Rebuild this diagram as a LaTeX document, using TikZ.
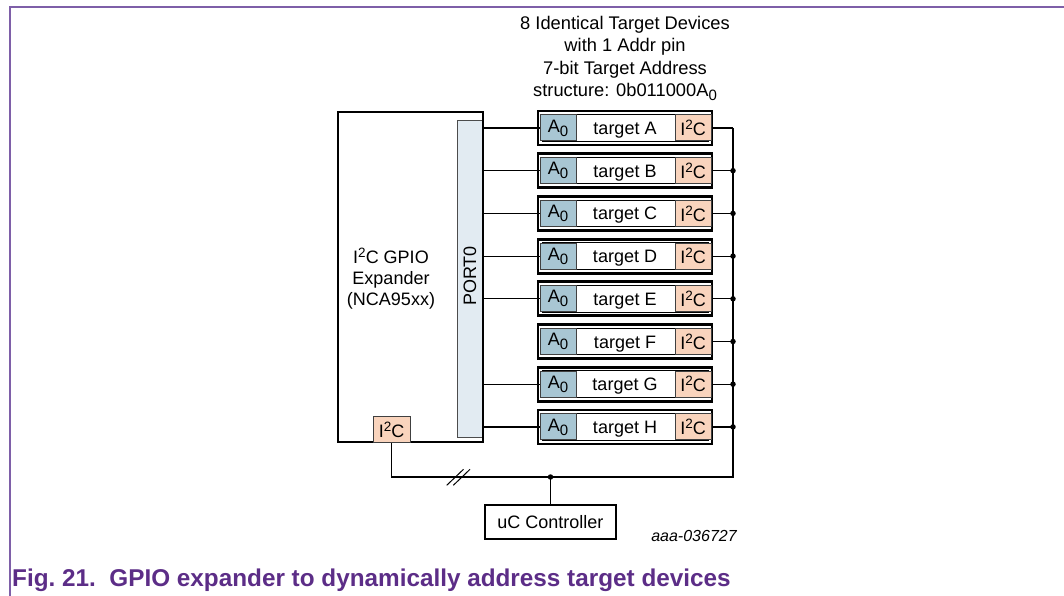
\documentclass[tikz,border=0pt]{standalone}
\usepackage{fontspec}
\setmainfont{Liberation Sans}
\definecolor{a0col}{HTML}{A8C6D3}
\definecolor{i2ccol}{HTML}{F9D4BD}
\definecolor{portcol}{HTML}{E2EBF2}
\definecolor{framecol}{HTML}{7E5FA8}
\definecolor{capcol}{HTML}{5C2D87}
\newcommand{\mytxt}{\fontsize{18}{21}\selectfont}
\newcommand{\subz}{\raisebox{-4pt}{\fontsize{15}{15}\selectfont 0}}
\newcommand{\ItwoC}{I\raisebox{6pt}{\fontsize{13.5}{13.5}\selectfont 2}C}
\begin{document}
\begin{tikzpicture}[x=1pt,y=-1pt,
  thickbox/.style={draw, line width=2.8pt, inner sep=0pt},
  thinbox/.style={draw, line width=1pt, inner sep=0pt},
  abox/.style={draw=black!75, line width=1pt, fill=a0col, inner sep=0pt, minimum width=36, minimum height=26, font=\mytxt},
  ibox/.style={draw=black!75, line width=1pt, fill=i2ccol, inner sep=0pt, minimum width=36, minimum height=26, font=\mytxt},
  wire/.style={line width=1.2pt},
  dot/.style={circle, fill=black, inner sep=0pt, minimum size=5.5pt},
  lbl/.style={font=\mytxt, inner sep=0pt}]
\useasboundingbox (0,0) rectangle (1064,596);
\draw[framecol, line width=1.5pt] (10,596) -- (10,7) -- (1064,7);

% header
\node[lbl, align=center, font=\fontsize{18.3}{22.5}\selectfont] (hdr) at (625,58.5)
  {8 Identical Target Devices\\with 1 Addr pin\\7-bit Target Address\\structure: 0b011000A\subz};

% expander
\node[draw=black!70, line width=1pt, fill=portcol, minimum width=26, minimum height=316, inner sep=0pt] (port) at (470,279) {};
\node[thickbox, minimum width=145, minimum height=330] (exp) at (410.5,277) {};
\node[lbl, rotate=90] (porttxt) at (470,276) {PORT0};
\node[lbl, align=center] (exptxt) at (391,279) {\ItwoC{} GPIO\\Expander\\(NCA95xx)};
\node[ibox, minimum width=37] (ei) at (391.5,429.5) {\ItwoC};

% targets
\foreach \l [count=\i from 0] in {A,B,C,D,E,F,G,H} {
  \pgfmathsetmacro{\yc}{128+42.7*\i}
  \node[thickbox, minimum width=174, minimum height=34] (t\l) at (625,\yc) {};
  \node[thinbox, minimum width=166, minimum height=26.5] (ti\l) at (625,\yc) {};
  \node[abox] (a\l) at (558,\yc) {A\subz};
  \node[ibox] (i\l) at (693,\yc) {\ItwoC};
  \node[lbl, anchor=base] (n\l) at (625,\yc+6.5) {target \l};
  \coordinate (b\l) at (733,\yc);
  \draw[wire] (i\l.east) -- (b\l);
}
\foreach \l in {A,B,C,D,E,G,H} {
  \draw[wire] (exp.east |- a\l.west) -- (a\l.west);
}
\foreach \l in {B,C,D,E,F,G,H} {
  \node[dot] at (b\l) {};
}

% bus
\coordinate (br) at (733,477);
\node[thickbox, minimum width=131, minimum height=34, font=\mytxt] (uc) at (550.5,522) {uC Controller};
\coordinate (jn) at (uc.north |- br);
\draw[wire] (bA) -- (br) -- (jn);
\draw[wire] (ei.south) -- (ei.south |- br) -- (jn);
\draw[wire] (jn) -- (uc.north);
\node[dot] at (jn) {};
\coordinate (s1a) at (446.7,485.3); \coordinate (s1b) at (463.5,469.3);
\coordinate (s2a) at (453.3,485.3); \coordinate (s2b) at (470,469.3);
\draw[line width=1pt] (s1a) -- (s1b);
\draw[line width=1pt] (s2a) -- (s2b);

\node[inner sep=0pt, font=\fontsize{16}{18}\selectfont\itshape] (ref) at (694,536) {aaa-036727};

% caption
\node[anchor=base west, inner sep=0pt, text=capcol, font=\fontsize{24.3}{28}\selectfont\bfseries] (cap) at (12,586)
  {Fig.~21.\ \ GPIO expander to dynamically address target devices};
\end{tikzpicture}
\end{document}
